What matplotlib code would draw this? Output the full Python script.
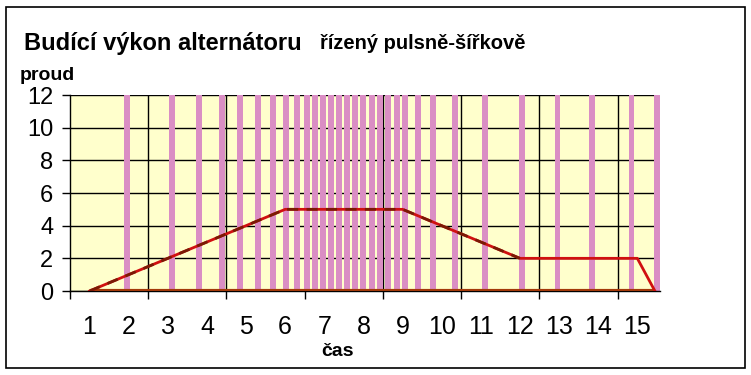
import numpy as np
import matplotlib
matplotlib.use('Agg')
import matplotlib.pyplot as plt
from matplotlib.patches import Rectangle

plt.rcParams['font.family'] = ['Liberation Sans', 'DejaVu Sans']

# excitation current curve (cas -> proud)
cas = [1, 6, 9, 12, 15, 15.45]
proud = [0, 5, 5, 2, 2, 0]

# PWM pulse positions (in units of the time axis)
pulsy = [1.96, 3.11, 3.80, 4.39, 4.85, 5.31, 5.69, 6.02, 6.31, 6.56, 6.77,
         6.97, 7.18, 7.38, 7.58, 7.79, 7.99, 8.22, 8.43, 8.63, 8.86, 9.07,
         9.40, 9.78, 10.35, 11.11, 12.06, 12.96, 13.85, 14.85, 15.51]
vyska = 12

x_labels = [str(i) for i in range(1, 16)]
y_ticks = [0, 2, 4, 6, 8, 10, 12]

fig = plt.figure(figsize=(7.51, 3.75), dpi=100)
fig.patch.set_facecolor('white')
fig.add_artist(Rectangle((6/751, 1-368/375), 739/751, 361/375, transform=fig.transFigure,
                         fill=False, edgecolor='black', linewidth=1.2))

ax = fig.add_axes([70/751, 1-291/375, 590/751, 196/375])
ax.set_facecolor('#FFFFCC')
ax.set_xlim(0.5, 15.58)
ax.set_ylim(0, 12)

# grid
ax.set_axisbelow(True)
ax.set_yticks(y_ticks)
ax.yaxis.grid(True, color='black', linewidth=1)
for gx in np.arange(2.5, 15, 2):
    ax.axvline(gx, color='black', linewidth=1, zorder=1)

# pulses
ax.bar(pulsy, vyska, width=0.15, bottom=0, color='#DA8EC4', zorder=2)

# curve
ax.plot([1, 15.45], [0, 0], color='#A33A0A', linewidth=3, zorder=3, solid_capstyle='butt')
ax.plot(cas, proud, color='#D01010', linewidth=2, zorder=4)
ax.plot(cas[:4], proud[:4], color='#7A1A05', linewidth=2, zorder=5, dashes=(4, 3))

# axes styling
for s in ['top', 'right']:
    ax.spines[s].set_visible(False)
ax.spines['left'].set_linewidth(1)
ax.spines['bottom'].set_linewidth(1)
ax.set_xticks(np.arange(0.5, 15, 2))
ax.set_xticklabels([])
ax.tick_params(axis='x', direction='out', length=6, width=1)
ax.tick_params(axis='y', direction='out', length=6, width=1, labelsize=17, pad=6)
ax.set_yticklabels([str(v) for v in y_ticks])
for i, lab in enumerate(x_labels):
    ax.text(i + 1, -2.2, lab, ha='center', va='center', fontsize=18,
            transform=ax.transData)

fig.text(24/751, 1-50/375, 'Budící výkon alternátoru', fontsize=17, fontweight='bold')
fig.text(320/751, 1-49/375, 'řízený pulsně-šířkově', fontsize=14.5, fontweight='bold')
fig.text(20/751, 1-80/375, 'proud', fontsize=14, fontweight='bold')
fig.text(338/751, 1-356/375, 'čas', fontsize=14, fontweight='bold', ha='center')

fig.savefig('out.png', dpi=100)
